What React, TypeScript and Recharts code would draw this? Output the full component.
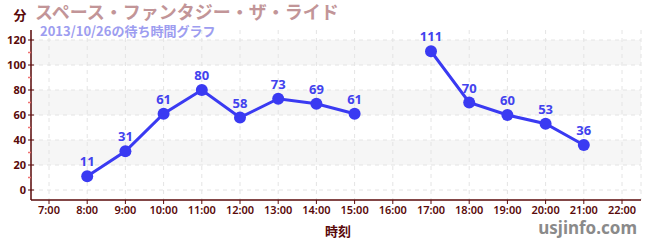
import React from "react";
import {
  LineChart,
  Line,
  XAxis,
  YAxis,
  CartesianGrid,
  LabelList,
} from "recharts";

const times = [
  "7:00", "8:00", "9:00", "10:00", "11:00", "12:00", "13:00", "14:00",
  "15:00", "16:00", "17:00", "18:00", "19:00", "20:00", "21:00", "22:00",
];
const waits: (number | null)[] = [
  null, 11, 31, 61, 80, 58, 73, 69, 61, null, 111, 70, 60, 53, 36, null,
];
const yTicks = [0, 10, 20, 30, 40, 50, 60, 70, 80, 90, 100, 110, 120];
const majorTicks = [0, 20, 40, 60, 80, 100, 120];
const bandEdges = [20, 40, 60, 80, 100, 120];

const data = times.map((t, i) => ({ time: t, wait: waits[i] }));

const AXIS = "#5a0a0a";
const BLUE = "#3a3af2";
const FONT = "'Noto Sans', 'Noto Sans CJK JP', sans-serif";
const JFONT = "'Noto Sans CJK JP', 'Noto Sans', sans-serif";

const YTick = (props: any) => {
  const { x, y, payload } = props;
  const v = payload.value;
  const ax = x + 4;
  if (v % 20 === 0) {
    return (
      <g>
        <line x1={ax - 3} x2={ax + 3} y1={y} y2={y} stroke={AXIS} strokeWidth={1} />
        <text
          x={x - 1}
          y={y}
          dy="0.35em"
          textAnchor="end"
          fill={AXIS}
          fontSize={11}
          fontWeight="bold"
          fontFamily={FONT}
        >
          {v}
        </text>
      </g>
    );
  }
  return <line x1={ax - 3} x2={ax} y1={y} y2={y} stroke="#f07070" strokeWidth={1.5} />;
};

const PointLabel = (props: any) => {
  const { x, y, value } = props;
  if (value === null || value === undefined) return null;
  return (
    <text
      x={x}
      y={y - 10}
      textAnchor="middle"
      fill="#4242ee"
      fontSize={13}
      fontWeight="bold"
      fontFamily={FONT}
    >
      {value}
    </text>
  );
};

export default function App() {
  return (
    <div style={{ position: "absolute", left: 0, top: 0, width: 650, height: 250, background: "#fff" }}>
      <LineChart
        width={650}
        height={250}
        data={data}
        margin={{ top: 30, right: 9, bottom: 0, left: 0 }}
      >
        <CartesianGrid
          vertical={false}
          stroke="none"
          horizontalValues={bandEdges}
          horizontalFill={["none", "#f6f6f6"]}
          fillOpacity={1}
        />
        <CartesianGrid
          strokeDasharray="4 4"
          stroke="#e4e4e4"
          horizontalValues={majorTicks}
        />
        <XAxis
          dataKey="time"
          height={50}
          padding={{ left: 18, right: 19 }}
          interval={0}
          tickSize={4}
          tickMargin={2}
          stroke={AXIS}
          axisLine={{ stroke: AXIS, strokeWidth: 1.5 }}
          tickLine={{ stroke: AXIS }}
          tick={{ fill: AXIS, fontSize: 11, fontFamily: FONT, fontWeight: 600 }}
        />
        <YAxis
          width={31}
          domain={[-8, 128]}
          ticks={yTicks}
          interval={0}
          tickSize={0}
          tickMargin={4}
          axisLine={{ stroke: AXIS, strokeWidth: 1.5 }}
          tickLine={false}
          tick={<YTick />}
          allowDataOverflow
        />
        <Line
          type="linear"
          dataKey="wait"
          stroke={BLUE}
          strokeWidth={3}
          dot={{ r: 6, fill: BLUE, stroke: "none" }}
          activeDot={false}
          connectNulls={false}
          isAnimationActive={false}
        >
          <LabelList dataKey="wait" content={<PointLabel />} />
        </Line>
      </LineChart>
      <svg
        width={650}
        height={250}
        style={{ position: "absolute", left: 0, top: 0, pointerEvents: "none" }}
      >
        <text x={20} y={15} dy="0.36em" textAnchor="middle" fill={AXIS} fontSize={13} fontWeight="bold" fontFamily={JFONT}>
          分
        </text>
        <text x={35} y={13} dy="0.36em" fill="#c29598" fontSize={18} fontWeight="bold" fontFamily={JFONT}>
          スペース・ファンタジー・ザ・ライド
        </text>
        <text x={40} y={31} dy="0.36em" fill="#9d9df0" fontSize={13} fontWeight="bold" fontFamily={JFONT}>
          2013/10/26の待ち時間グラフ
        </text>
        <text x={338} y={231} dy="0.36em" textAnchor="middle" fill={AXIS} fontSize={13} fontWeight="bold" fontFamily={JFONT}>
          時刻
        </text>
        <text x={637} y={228} dy="0.36em" textAnchor="end" fill="#8a8a8a" fontSize={17} fontWeight="bold" fontFamily={FONT}>
          usjinfo.com
        </text>
      </svg>
    </div>
  );
}
